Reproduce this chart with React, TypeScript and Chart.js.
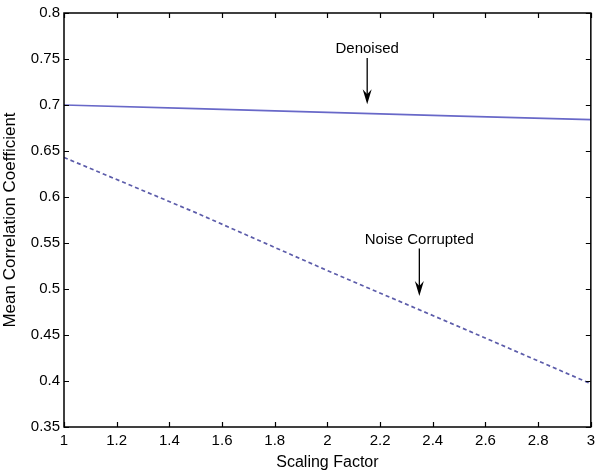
import { useEffect, useRef } from 'react';
import { Chart, registerables } from 'chart.js';

Chart.register(...registerables);

// ---- data ----
const scalingFactor = [1, 1.5, 2, 2.5, 3];
const denoised = [0.7, 0.696, 0.692, 0.688, 0.684];
const noiseCorrupted = [0.643, 0.583, 0.52, 0.459, 0.397];

const xTickValues = [1, 1.2, 1.4, 1.6, 1.8, 2, 2.2, 2.4, 2.6, 2.8, 3];
const yTickValues = [0.35, 0.4, 0.45, 0.5, 0.55, 0.6, 0.65, 0.7, 0.75, 0.8];

const annotationLabels = ['Denoised', 'Noise Corrupted'];
const annotationX = [2.151, 2.349];
const annotationTextY = [0.761, 0.553];
const annotationArrowFromY = [0.751, 0.544];
const annotationArrowToY = [0.7007, 0.4925];

const FONT = '"Liberation Sans", Arial, Helvetica, sans-serif';

const frameAndAnnotations = {
  id: 'frameAndAnnotations',
  afterDraw(chart: any) {
    const { ctx, chartArea } = chart;
    const { left, right, top, bottom } = chartArea;
    const xs = chart.scales.x;
    const ys = chart.scales.y;
    ctx.save();
    ctx.strokeStyle = '#000';
    ctx.lineWidth = 1.5;
    ctx.strokeRect(left, top, right - left, bottom - top);
    ctx.lineWidth = 1.2;
    ctx.beginPath();
    xs.ticks.forEach((t: any) => {
      const px = Math.round(xs.getPixelForValue(t.value)) + 0.5;
      ctx.moveTo(px, bottom);
      ctx.lineTo(px, bottom - 5);
      ctx.moveTo(px, top);
      ctx.lineTo(px, top + 5);
    });
    ys.ticks.forEach((t: any) => {
      const py = Math.round(ys.getPixelForValue(t.value)) + 0.5;
      ctx.moveTo(left, py);
      ctx.lineTo(left + 5, py);
      ctx.moveTo(right, py);
      ctx.lineTo(right - 5, py);
    });
    ctx.stroke();

    // annotations
    ctx.fillStyle = '#000';
    ctx.font = '15px ' + FONT;
    ctx.textAlign = 'center';
    ctx.textBaseline = 'middle';
    annotationLabels.forEach((label, i) => {
      const px = xs.getPixelForValue(annotationX[i]);
      const ty = ys.getPixelForValue(annotationTextY[i]);
      const y1 = ys.getPixelForValue(annotationArrowFromY[i]);
      const tip = ys.getPixelForValue(annotationArrowToY[i]);
      ctx.fillText(label, px, ty);
      ctx.lineWidth = 1.3;
      ctx.beginPath();
      ctx.moveTo(px, y1);
      ctx.lineTo(px, tip - 8);
      ctx.stroke();
      ctx.beginPath();
      ctx.moveTo(px - 4.5, tip - 15);
      ctx.lineTo(px, tip);
      ctx.lineTo(px + 4.5, tip - 15);
      ctx.lineTo(px, tip - 10);
      ctx.closePath();
      ctx.fill();
    });
    ctx.restore();
  },
};

const fmt = (v: number) => String(+Number(v).toFixed(2));

export default function App() {
  const canvasRef = useRef<HTMLCanvasElement | null>(null);

  useEffect(() => {
    document.body.style.margin = '0';
    const canvas = canvasRef.current;
    if (!canvas) return;
    const chart = new Chart(canvas, {
      type: 'line',
      data: {
        datasets: [
          {
            label: 'Denoised',
            data: scalingFactor.map((x, i) => ({ x, y: denoised[i] })),
            borderColor: 'rgb(104, 104, 200)',
            borderWidth: 1.7,
            pointRadius: 0,
            tension: 0,
            fill: false,
          },
          {
            label: 'Noise Corrupted',
            data: scalingFactor.map((x, i) => ({ x, y: noiseCorrupted[i] })),
            borderColor: 'rgb(92, 92, 170)',
            borderWidth: 1.7,
            borderDash: [4, 3],
            pointRadius: 0,
            tension: 0,
            fill: false,
          },
        ],
      },
      options: {
        animation: false,
        responsive: false,
        maintainAspectRatio: false,
        layout: { padding: { left: 0, right: 6, top: 10, bottom: 0 } },
        plugins: {
          legend: { display: false },
          tooltip: { enabled: false },
        },
        scales: {
          x: {
            type: 'linear',
            min: 1,
            max: 3,
            grid: { display: false, drawTicks: false },
            border: { display: false },
            afterBuildTicks: (scale: any) => {
              scale.ticks = xTickValues.map((v) => ({ value: v }));
            },
            afterFit: (scale: any) => {
              scale.height = 46;
            },
            ticks: {
              padding: 5,
              color: '#000',
              font: { family: FONT, size: 15 },
              maxRotation: 0,
              autoSkip: false,
              callback: (v: any) => fmt(v),
            },
            title: {
              display: true,
              text: 'Scaling Factor',
              color: '#000',
              font: { family: FONT, size: 16 },
              padding: { top: 0, bottom: 1 },
            },
          },
          y: {
            type: 'linear',
            min: 0.35,
            max: 0.8,
            grid: { display: false, drawTicks: false },
            border: { display: false },
            afterBuildTicks: (scale: any) => {
              scale.ticks = yTickValues.map((v) => ({ value: v }));
            },
            afterFit: (scale: any) => {
              scale.width = 64;
            },
            ticks: {
              padding: 4,
              color: '#000',
              font: { family: FONT, size: 15 },
              autoSkip: false,
              callback: (v: any) => fmt(v),
            },
            title: {
              display: true,
              text: 'Mean Correlation Coefficient',
              color: '#000',
              font: { family: FONT, size: 17 },
              padding: { top: 0, bottom: 0 },
            },
          },
        },
      },
      plugins: [frameAndAnnotations],
    } as any);
    return () => chart.destroy();
  }, []);

  return (
    <div style={{ width: 600, height: 473, background: '#fff' }}>
      <canvas ref={canvasRef} width={600} height={473} />
    </div>
  );
}
